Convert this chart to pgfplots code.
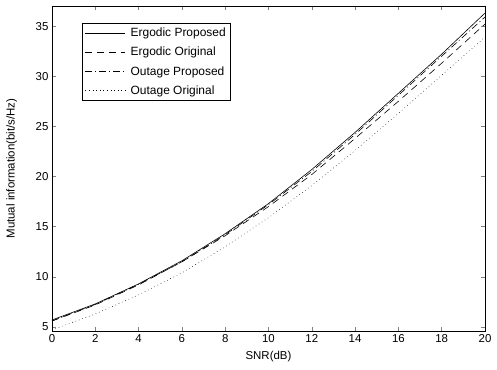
\documentclass[border=0pt]{standalone}
\usepackage{pgfplots}
\pgfplotsset{compat=1.18}
\usetikzlibrary{calc}
\usepackage{fontspec}
\setmainfont{Liberation Sans}
\pgfplotsset{
  legend image code/.code={\draw[#1] (0bp,0bp) -- (40bp,0bp);}
}
\begin{document}
\begin{tikzpicture}
\begin{axis}[
  scale only axis,
  width=433bp, height=325bp,
  xmin=0, xmax=20, ymin=4.6, ymax=37,
  xtick={0,2,...,20}, ytick={5,10,...,35},
  tick align=inside, tick pos=both,
  major tick length=4bp,
  axis line style={line width=0.6pt},
  tick style={line width=0.5pt},
  /pgf/number format/assume math mode=true,
  tick label style={font=\fontsize{11.5}{13}\selectfont},
  label style={font=\fontsize{11.5}{13}\selectfont},
  xlabel={SNR(dB)},
  ylabel={Mutual information(bit/s/Hz)},
  xlabel style={at={(axis description cs:0.5,-0.08)}, anchor=center},
  ylabel style={at={(axis description cs:-0.093,0.5)}, anchor=center},
  legend style={at={(0.069,0.948)}, anchor=north west, draw=black, line width=0.5pt,
    font=\fontsize{12}{14}\selectfont, row sep=5pt, inner sep=3pt, cells={anchor=west},
    /tikz/every odd column/.append style={column sep=3pt}},
  legend cell align=left,
]
\coordinate (sw) at (rel axis cs:0,0);
\coordinate (ne) at (rel axis cs:1,1);
\addplot[black, line width=0.6pt] coordinates {
(0,5.7) (2,7.3) (4,9.3) (6,11.6) (8,14.3) (10,17.3) (12,20.7) (14,24.4) (16,28.3) (18,32.2) (20,36.3)};
\addlegendentry{Ergodic Proposed}
\addplot[black, line width=0.6pt, dash pattern=on 7pt off 5pt] coordinates {
(0,5.6) (2,7.2) (4,9.2) (6,11.5) (8,14.1) (10,17.0) (12,20.2) (14,23.8) (16,27.5) (18,31.3) (20,35.2)};
\addlegendentry{Ergodic Original}
\addplot[black, line width=0.6pt, dash pattern=on 7pt off 3pt on 1pt off 3pt] coordinates {
(0,5.6) (2,7.25) (4,9.25) (6,11.5) (8,14.2) (10,17.2) (12,20.5) (14,24.2) (16,28.1) (18,32.0) (20,35.9)};
\addlegendentry{Outage Proposed}
\addplot[black, line width=0.5pt, dash pattern=on 0.6pt off 3pt] coordinates {
(0,4.7) (2,6.3) (4,8.2) (6,10.4) (8,13.0) (10,15.9) (12,19.1) (14,22.6) (16,26.3) (18,30.1) (20,33.9)};
\addlegendentry{Outage Original}
\end{axis}
\path ($(sw)+(-52bp,-39bp)$) rectangle ($(ne)+(12bp,6bp)$);
\end{tikzpicture}
\end{document}
